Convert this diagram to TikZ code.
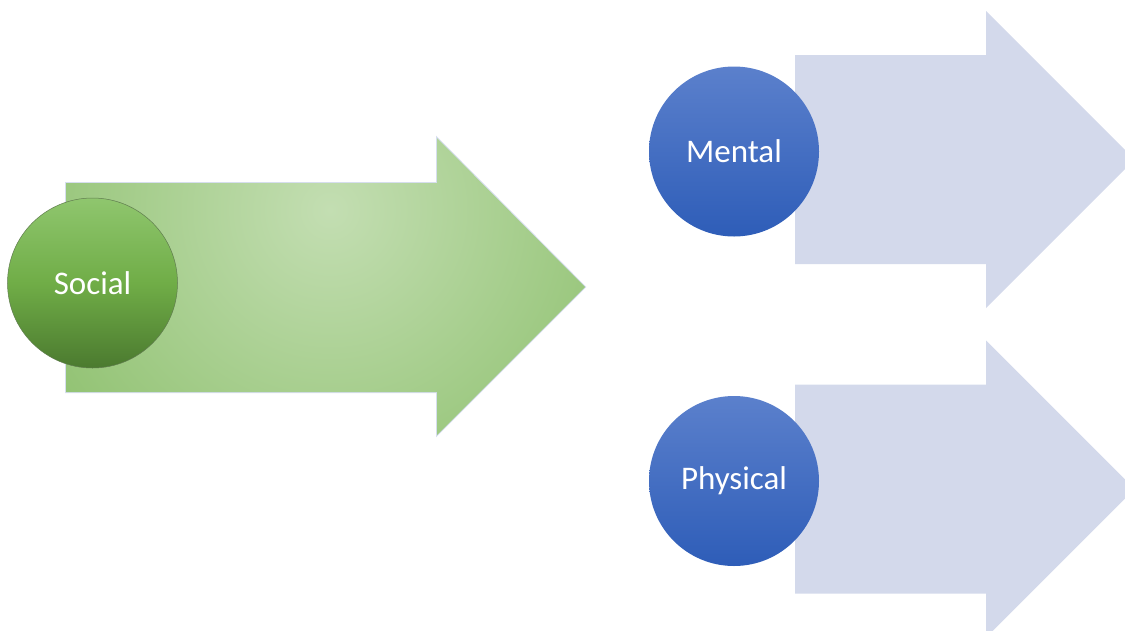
\documentclass[tikz,border=0pt]{standalone}
\usepackage{fontspec}
\setmainfont{Carlito}
\definecolor{leafdark}{HTML}{78B452}
\definecolor{leaflight}{HTML}{C3DEB2}
\definecolor{leafrim}{HTML}{D6DEEE}
\definecolor{ballgtop}{HTML}{8FC66E}
\definecolor{ballgmid}{HTML}{70AD47}
\definecolor{ballgbot}{HTML}{4B7A2F}
\definecolor{ballbtop}{HTML}{5B80CC}
\definecolor{ballbbot}{HTML}{2E5DB8}
\definecolor{paleblue}{HTML}{D3D9EB}
\tikzset{
  ball/.style={circle, minimum size=170pt, inner sep=0pt, text=white,
    font=\fontsize{33}{39}\selectfont},
  greenball/.style={ball, top color=ballgtop, bottom color=ballgbot,
    middle color=ballgmid, draw=ballgbot!60!gray, line width=0.5pt},
  blueball/.style={ball, top color=ballbtop, bottom color=ballbbot},
  palearrow/.style={fill=paleblue}
}
\begin{document}
\begin{tikzpicture}[x=1pt, y=-1pt]
\useasboundingbox (0,0) rectangle (1125,630);
\clip (0,0) rectangle (1125,630);

% green block arrow with a soft highlight
\path[fill=leafdark, draw=leafrim, line width=2pt]
  (66,183) -- (437,183) -- (437,138) -- (585,287) -- (437,435)
  -- (437,392) -- (66,392) -- cycle;
\begin{scope}
  \clip (66,183) -- (437,183) -- (437,138) -- (585,287) -- (437,435)
    -- (437,392) -- (66,392) -- cycle;
  \shade[inner color=leaflight, outer color=leafdark] (330,210) circle (500);
\end{scope}
\node[greenball] (social) at (92.5,283) {Social};

% pale block arrows
\path[palearrow]
  (795,55) -- (986,55) -- (986,11) -- (1134.5,159.5) -- (986,308)
  -- (986,264) -- (795,264) -- cycle;
\path[palearrow]
  (795,384.5) -- (986,384.5) -- (986,340.5) -- (1134.5,489) -- (986,637.5)
  -- (986,593.5) -- (795,593.5) -- cycle;

\node[blueball] (mental) at (734,151.5) {Mental};
\node[blueball] (physical) at (734,481) {Physical};
\end{tikzpicture}
\end{document}
